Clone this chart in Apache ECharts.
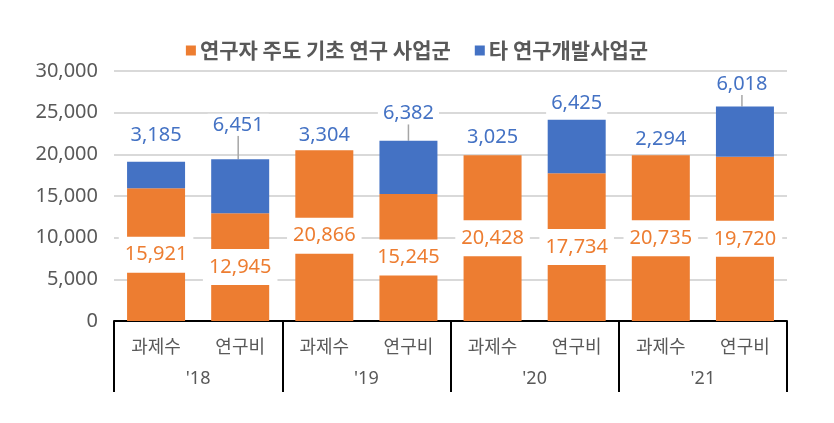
<!DOCTYPE html>
<html>
<head>
<meta charset="utf-8">
<script src="https://cdn.jsdelivr.net/npm/echarts@6/dist/echarts.min.js"></script>
<style>
html,body{margin:0;padding:0;background:#fff;}
#chart{width:834px;height:423px;}
</style>
</head>
<body>
<div id="chart"></div>
<script>
// ---- data ----
const categories = ['과제수', '연구비', '과제수', '연구비', '과제수', '연구비', '과제수', '연구비'];
const years = ["'18", "'19", "'20", "'21"];
const seriesNames = ['연구자 주도 기초 연구 사업군', '타 연구개발사업군'];
// bar heights as drawn in the picture
const orangeBars = [15921, 12945, 20480, 15245, 19880, 17734, 19880, 19720];
const blueBars = [3185, 6451, 0, 6382, 0, 6425, 0, 6018];
// values printed as data labels
const orangeLabels = [15921, 12945, 20866, 15245, 20428, 17734, 20735, 19720];
const blueLabels = [3185, 6451, 3304, 6382, 3025, 6425, 2294, 6018];
const yTicks = [0, 5000, 10000, 15000, 20000, 25000, 30000];

// ---- style ----
const ORANGE = '#ED7D31', BLUE = '#4472C4', GRAY = '#595959';
const NUM_FONT = "'Noto Sans', 'Noto Sans CJK KR', sans-serif";
const KR_FONT = "'Noto Sans CJK KR', sans-serif";
const blueLabelShift = [[0, -10.5], [-2, -18.5], [0, 0.5], [0, -11.5], [0, -2.5], [0, -0.5], [0, -0.5], [-3, -6.5]];
const blueLeader = [false, true, false, true, false, false, false, true];

const fmt = v => v.toLocaleString('en-US');

const chart = echarts.init(document.getElementById('chart'), null, {renderer: 'canvas'});
chart.setOption({
  animation: false,
  color: [ORANGE, BLUE],
  legend: {
    top: 35,
    left: 'center',
    icon: 'rect',
    itemWidth: 10,
    itemHeight: 10,
    itemGap: 24,
    textStyle: {fontFamily: KR_FONT, fontSize: 21, color: GRAY, fontWeight: 'bold', padding: [0, 0, 0, -1]},
    data: seriesNames
  },
  grid: {left: 114, right: 47, top: 71, bottom: 102, containLabel: false},
  xAxis: [
    {
      type: 'category',
      data: categories,
      position: 'bottom',
      axisLine: {show: true, lineStyle: {color: '#000', width: 2}},
      axisTick: {show: false},
      axisLabel: {margin: 16, fontFamily: KR_FONT, fontSize: 18, color: GRAY, interval: 0}
    },
    {
      type: 'category',
      data: years,
      position: 'bottom',
      axisLine: {show: false},
      axisTick: {show: true, interval: 0, length: 71, lineStyle: {color: '#000', width: 2}},
      axisLabel: {margin: 49, fontFamily: NUM_FONT, fontSize: 18, color: GRAY, interval: 0},
      splitLine: {show: false}
    }
  ],
  yAxis: {
    type: 'value',
    min: yTicks[0],
    max: yTicks[yTicks.length - 1],
    interval: yTicks[1] - yTicks[0],
    axisLine: {show: false},
    axisTick: {show: false},
    axisLabel: {margin: 16, fontFamily: NUM_FONT, fontSize: 20, color: GRAY, formatter: v => fmt(v)},
    splitLine: {lineStyle: {color: '#D9D9D9', width: 2}}
  },
  series: [
    {
      name: seriesNames[0],
      type: 'bar',
      stack: 'total',
      barWidth: 58,
      xAxisIndex: 0,
      data: orangeBars,
      itemStyle: {color: ORANGE},
      label: {
        show: true,
        position: 'inside',
        formatter: p => fmt(orangeLabels[p.dataIndex]),
        color: ORANGE,
        fontFamily: NUM_FONT,
        fontSize: 20,
        backgroundColor: '#fff',
        padding: [8, 6]
      }
    },
    {
      name: seriesNames[1],
      type: 'bar',
      stack: 'total',
      barWidth: 58,
      xAxisIndex: 0,
      data: blueBars.map((v, i) => ({
        value: v,
        labelLine: {show: blueLeader[i], lineStyle: {color: '#A6A6A6', width: 1.5}}
      })),
      itemStyle: {color: BLUE},
      label: {
        show: true,
        position: 'top',
        distance: 5,
        formatter: p => fmt(blueLabels[p.dataIndex]),
        color: BLUE,
        fontFamily: NUM_FONT,
        fontSize: 20,
        backgroundColor: '#fff',
        padding: [1, 5]
      },
      labelLine: {show: false, lineStyle: {color: '#A6A6A6', width: 1.5}},
      labelLayout: p => ({dx: blueLabelShift[p.dataIndex][0], dy: blueLabelShift[p.dataIndex][1]})
    }
  ]
});
</script>
</body>
</html>
